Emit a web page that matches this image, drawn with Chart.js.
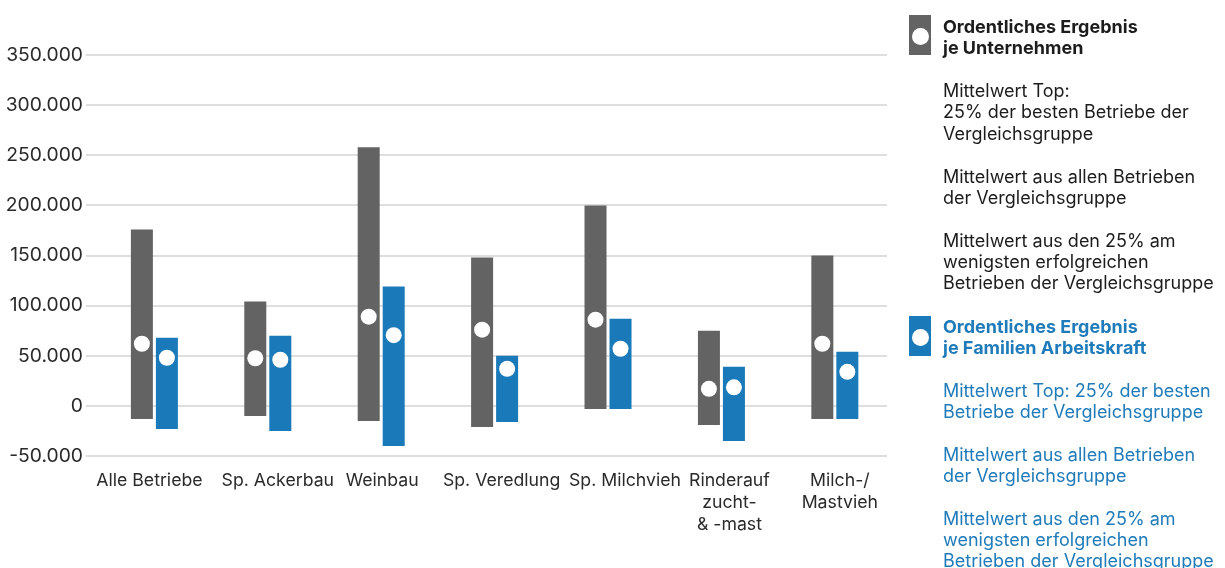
<!DOCTYPE html>
<html lang="de">
<head>
<meta charset="utf-8">
<title>Ordentliches Ergebnis nach Betriebsform</title>
<script src="https://cdn.jsdelivr.net/npm/chart.js@4/dist/chart.umd.min.js"></script>
<style>
  html, body { margin: 0; padding: 0; background: #fff; overflow: hidden; }
  #wrap { position: relative; width: 1225px; height: 568px; overflow: hidden; }
  #chart { position: absolute; left: 0; top: 0; }
  .legend { position: absolute; left: 909px; font-family: "Inter", sans-serif; font-size: 18px; line-height: 21.36px; white-space: nowrap; }
  .legend .key { position: absolute; left: 0; width: 22px; height: 40px; }
  .legend .key::after { content: ""; position: absolute; left: 2.5px; top: 12.5px; width: 17px; height: 17px; border-radius: 50%; background: #fff; }
  .legend .txt { margin-left: 34px; }
  .legend .ttl { font-weight: 700; }
  .legend p { margin: 21.36px 0 0 0; }
  #lgA { top: 16px; color: #1c1c1c; }
  #lgA .key { top: -1px; background: #636363; }
  #lgB { top: 315.5px; color: #1f7bb9; }
  #lgB .key { top: 0.5px; background: #1a79b8; }
</style>
</head>
<body>
<div id="wrap">
  <canvas id="chart" width="1225" height="568"></canvas>
  <div class="legend" id="lgA">
    <div class="key"></div>
    <div class="txt">
      <div class="ttl">Ordentliches Ergebnis<br>je Unternehmen</div>
      <p>Mittelwert Top:<br>25% der besten Betriebe der<br>Vergleichsgruppe</p>
      <p>Mittelwert aus allen Betrieben<br>der Vergleichsgruppe</p>
      <p>Mittelwert aus den 25% am<br>wenigsten erfolgreichen<br>Betrieben der Vergleichsgruppe</p>
    </div>
  </div>
  <div class="legend" id="lgB">
    <div class="key"></div>
    <div class="txt">
      <div class="ttl">Ordentliches Ergebnis<br>je Familien Arbeitskraft</div>
      <p>Mittelwert Top: 25% der besten<br>Betriebe der Vergleichsgruppe</p>
      <p>Mittelwert aus allen Betrieben<br>der Vergleichsgruppe</p>
      <p>Mittelwert aus den 25% am<br>wenigsten erfolgreichen<br>Betrieben der Vergleichsgruppe</p>
    </div>
  </div>
</div>
<script>
// Betriebsformen (Vergleichsgruppen)
const categories = [
  'Alle Betriebe',
  'Sp. Ackerbau',
  'Weinbau',
  'Sp. Veredlung',
  'Sp. Milchvieh',
  ['Rinderauf', 'zucht-', '& -mast'],
  ['Milch-/', 'Mastvieh']
];

// Ordentliches Ergebnis je Unternehmen (EUR)
const unternehmenTop   = [176000, 104000, 258000, 148000, 200000, 75000, 150000];
const unternehmenMean  = [62000, 47500, 89000, 76000, 86000, 17000, 62000];
const unternehmenLow   = [-13000, -10000, -15000, -21000, -3000, -19000, -13000];

// Ordentliches Ergebnis je Familien-Arbeitskraft (EUR)
const familienAkTop    = [68000, 70000, 119000, 50000, 87000, 39000, 54000];
const familienAkMean   = [48000, 46000, 70500, 37000, 57000, 18500, 34000];
const familienAkLow    = [-23000, -25000, -40000, -16000, -3000, -35000, -13000];

// y-axis ticks
const yTicks = [-50000, 0, 50000, 100000, 150000, 200000, 250000, 300000, 350000];

// horizontal nudge (px) of each category label so neighbouring labels keep clear of each other
const labelNudge = [-5, 10, 1, 7, 17, 8, 5];

const GREY = '#636363';
const BLUE = '#1a79b8';

const ranges = (low, top) => categories.map((_, i) => ({ x: i, y: [low[i], top[i]] }));

// white dots for the group average, placed on the centre of each bar
const meanDots = {
  id: 'meanDots',
  afterDatasetsDraw(chart) {
    const means = [unternehmenMean, familienAkMean];
    const ctx = chart.ctx;
    const y = chart.scales.y;
    ctx.save();
    ctx.fillStyle = '#ffffff';
    means.forEach((vals, d) => {
      const meta = chart.getDatasetMeta(d);
      meta.data.forEach((bar, i) => {
        ctx.beginPath();
        ctx.arc(bar.x, y.getPixelForValue(vals[i]), 8, 0, Math.PI * 2);
        ctx.fill();
      });
    });
    ctx.restore();
  }
};

// shifts the computed x label items once per layout
const nudgeLabels = {
  id: 'nudgeLabels',
  beforeDraw(chart) {
    const s = chart.scales.x;
    const items = s.getLabelItems(chart.chartArea);
    if (s._nudgedItems === items) return;
    items.forEach((it, i) => { it.options.translation[0] += labelNudge[i] || 0; });
    s._nudgedItems = items;
  }
};

new Chart(document.getElementById('chart'), {
  type: 'bar',
  data: {
    datasets: [
      { label: 'Ordentliches Ergebnis je Unternehmen', data: ranges(unternehmenLow, unternehmenTop), backgroundColor: GREY },
      { label: 'Ordentliches Ergebnis je Familien Arbeitskraft', data: ranges(familienAkLow, familienAkTop), backgroundColor: BLUE }
    ]
  },
  options: {
    responsive: false,
    animation: false,
    events: [],
    categoryPercentage: 0.441,
    barPercentage: 0.88,
    layout: { padding: { top: 55, right: 338, left: 0, bottom: 0 } },
    plugins: { legend: { display: false }, tooltip: { enabled: false } },
    scales: {
      x: {
        type: 'linear',
        offset: false,
        min: -0.603,
        max: 6.46,
        afterBuildTicks(s) { s.ticks = categories.map((_, i) => ({ value: i })); },
        afterFit(s) { s.height = 112; },
        grid: { display: false },
        border: { display: false },
        ticks: {
          autoSkip: false,
          maxRotation: 0,
          minRotation: 0,
          padding: 6,
          color: '#2a2a2a',
          font: { family: 'Inter', size: 17.7, lineHeight: '22px' },
          callback: (v) => categories[v]
        }
      },
      y: {
        min: -50000,
        max: 350000,
        afterBuildTicks(s) { s.ticks = yTicks.map(v => ({ value: v })); },
        afterFit(s) { s.width = 86; },
        border: { display: false },
        grid: { color: '#dedede', lineWidth: 2, drawTicks: false },
        ticks: {
          padding: 3,
          color: '#2a2a2a',
          font: { family: 'Inter', size: 19.3 },
          callback: (v) => v.toLocaleString('de-DE')
        }
      }
    }
  },
  plugins: [meanDots, nudgeLabels]
});
</script>
</body>
</html>
